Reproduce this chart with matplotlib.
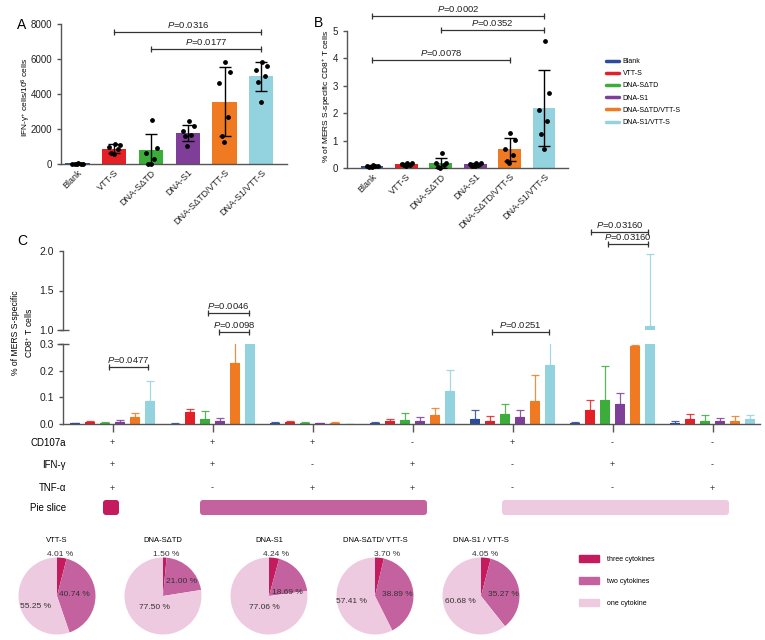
import numpy as np
import matplotlib
matplotlib.use("Agg")
import matplotlib.pyplot as plt
import matplotlib.transforms as mtransforms
from matplotlib.lines import Line2D
from matplotlib.patches import Patch, FancyBboxPatch

plt.rcParams['font.family'] = ['Liberation Sans', 'DejaVu Sans']
plt.rcParams['mathtext.fontset'] = 'custom'
plt.rcParams['mathtext.rm'] = 'Liberation Sans'
plt.rcParams['mathtext.it'] = 'Liberation Sans:italic'

# ---------------- data ----------------
groups = ["Blank", "VTT-S", "DNA-SΔTD", "DNA-S1", "DNA-SΔTD/VTT-S", "DNA-S1/VTT-S"]
colors = ['#2b4c9b', '#e41f26', '#3cac3a', '#7f3f98', '#f07a22', '#93d3df']

# panel A : IFN-gamma ELISpot
ifn_mean = [30, 880, 790, 1790, 3570, 5000]
ifn_sd = [20, 260, 930, 460, 1950, 830]
ifn_points = [
    [30, 20, 10, 10, 5, 0],
    [1150, 1100, 1000, 850, 620, 600],
    [2500, 930, 630, 290, 0, 0],
    [2440, 2150, 1900, 1680, 1620, 1050],
    [5850, 5260, 4630, 2670, 1620, 1240],
    [5850, 5620, 5350, 5050, 4700, 3520],
]
ifn_pvals = [(1, 5, 7540, "0.0316"), (2, 5, 6570, "0.0177")]

# panel B : % MERS S-specific CD8+ T cells
cd8_mean = [0.07, 0.14, 0.18, 0.13, 0.69, 2.19]
cd8_sd = [0.03, 0.04, 0.19, 0.05, 0.42, 1.39]
cd8_points = [
    [0.10, 0.08, 0.07, 0.06, 0.05, 0.04],
    [0.20, 0.18, 0.15, 0.12, 0.10, 0.08],
    [0.53, 0.20, 0.18, 0.10, 0.05, 0.0],
    [0.20, 0.18, 0.15, 0.10, 0.08, 0.06],
    [1.28, 1.04, 0.71, 0.46, 0.24, 0.20],
    [4.63, 2.74, 2.13, 1.71, 1.23, 0.68],
]
cd8_pvals = [(0, 5, 5.56, "0.0002"), (2, 5, 5.04, "0.0352"), (0, 4, 3.94, "0.0078")]

# panel C : cytokine combinations (rows = combinations, cols = groups)
cd107a = ['+', '+', '+', '-', '+', '-', '-']
ifng = ['+', '+', '-', '+', '-', '+', '-']
tnfa = ['+', '-', '+', '+', '-', '-', '+']
n_cytokines = [3, 2, 2, 2, 1, 1, 1]
combo_mean = np.array([
    [0.004, 0.006, 0.005, 0.006, 0.025, 0.0875],
    [0.001, 0.045, 0.019, 0.0125, 0.23, 0.55],
    [0.004, 0.006, 0.004, 0.002, 0.004, 0.0],
    [0.004, 0.010, 0.015, 0.011, 0.034, 0.122],
    [0.0175, 0.0125, 0.036, 0.0275, 0.0875, 0.2225],
    [0.004, 0.0525, 0.090, 0.076, 0.294, 1.05],
    [0.005, 0.019, 0.0125, 0.010, 0.0125, 0.020],
])
combo_err = np.array([
    [0.001, 0.0065, 0.0025, 0.008, 0.016, 0.075],
    [0.001, 0.013, 0.031, 0.0095, 0.20, 0.30],
    [0.002, 0.006, 0.004, 0.001, 0.004, 0.0],
    [0.002, 0.010, 0.026, 0.014, 0.026, 0.082],
    [0.0365, 0.0185, 0.039, 0.025, 0.0975, 0.09],
    [0.005, 0.0365, 0.1275, 0.039, 0.004, 0.91],
    [0.0075, 0.020, 0.0225, 0.0125, 0.0185, 0.015],
])
# (x0, x1, y, p) in group units / y units of the lower and upper axis
combo_pvals_low = [(-0.035, 0.355, 0.214, "0.0477"), (0.955, 1.365, 0.416, "0.0046"),
                   (1.065, 1.365, 0.345, "0.0098"), (3.795, 4.365, 0.345, "0.0251")]
combo_pvals_up = [(4.785, 5.355, 2.24, "0.03160"), (4.955, 5.355, 2.09, "0.03160")]

# pies
pie_titles = ["VTT-S", "DNA-SΔTD", "DNA-S1", "DNA-SΔTD/ VTT-S", "DNA-S1 / VTT-S"]
pie_three = [4.01, 1.50, 4.24, 3.70, 4.05]
pie_two = [40.74, 21.00, 18.69, 38.89, 35.27]
pie_one = [55.25, 77.50, 77.06, 57.41, 60.68]
pie_labels = ["three cytokines", "two cytokines", "one cytokine"]
pie_colors = ['#c41a5e', '#c462a0', '#eecae0']

# label offsets on each pie (radius units)
pie_lab_pos = [
    [(0.07, 1.09), (0.44, 0.05), (-0.55, -0.26)],
    [(0.07, 1.09), (0.49, 0.37), (-0.23, -0.31)],
    [(0.17, 1.09), (0.49, 0.09), (-0.13, -0.31)],
    [(0.32, 1.09), (0.58, 0.05), (-0.61, -0.13)],
    [(0.11, 1.09), (0.59, 0.05), (-0.54, -0.13)],
]

W, H = 765, 640
spine_c = '#555555'
fig = plt.figure(figsize=(W / 100, H / 100), dpi=100)


def px_axes(x0, y0, x1, y1):
    ax = fig.add_axes([x0 / W, 1 - y1 / H, (x1 - x0) / W, (y1 - y0) / H])
    ax.patch.set_visible(False)
    return ax


def style_axes(ax, fs=7):
    for s in ['top', 'right']:
        ax.spines[s].set_visible(False)
    for s in ['left', 'bottom']:
        ax.spines[s].set_color(spine_c)
        ax.spines[s].set_linewidth(1.0)
    ax.tick_params(colors=spine_c, labelcolor='#222222', labelsize=fs, width=1.0, length=3)


def bracket(ax, x0, x1, y, p, fs=6.8, ms=5, lw=0.9):
    ax.plot([x0, x1], [y, y], color='#333333', lw=lw, marker='|', ms=ms, mew=lw,
            clip_on=False, zorder=5)
    ax.annotate(r"$\it{P}$=" + p, ((x0 + x1) / 2, y), xytext=(0, 1.5),
                textcoords='offset points', ha='center', va='bottom', fontsize=fs,
                color='#222222', annotation_clip=False)


jit = [0.02, 0.16, -0.14, 0.09, -0.08, -0.01]
shift = mtransforms.ScaledTranslation(0.07, 0, fig.dpi_scale_trans)


def dot_bar(ax, means, sds, points, pvals):
    x = np.arange(len(groups))
    ax.bar(x, means, width=0.66, color=colors, zorder=2)
    ax.errorbar(x, means, yerr=sds, fmt='none', ecolor='black', elinewidth=1.0,
                capsize=4.5, capthick=1.0, zorder=4)
    for i, pts in enumerate(points):
        ax.scatter(i + np.array(jit), pts, s=6, color='black', zorder=5, clip_on=False)
    for a, b, y, p in pvals:
        bracket(ax, a, b, y, p)
    ax.set_xticks(x)
    ax.set_xticklabels(groups, rotation=45, ha='right', va='top', rotation_mode='anchor',
                       fontsize=6.5)
    for lab in ax.get_xticklabels():
        lab.set_transform(lab.get_transform() + shift)
    ax.tick_params(axis='x', length=0, pad=3)


# ---- panel A
axA = px_axes(61, 24, 287, 164)
style_axes(axA)
dot_bar(axA, ifn_mean, ifn_sd, ifn_points, ifn_pvals)
axA.set_ylim(0, 8000)
axA.set_xlim(-0.45, 5.7)
axA.set_yticks([0, 2000, 4000, 6000, 8000])
fig.text(26 / W, 1 - 97 / H, r"IFN-γ$^{+}$ cells/10$^{6}$ cells", rotation=90,
         ha='center', va='center', fontsize=6)
fig.text(17 / W, 1 - 25 / H, "A", fontsize=10, ha='left', va='center')

# ---- panel B
axB = px_axes(347, 31, 568, 168)
style_axes(axB)
dot_bar(axB, cd8_mean, cd8_sd, cd8_points, cd8_pvals)
axB.set_ylim(0, 5)
axB.set_xlim(-0.73, 5.7)
axB.set_yticks([0, 1, 2, 3, 4, 5])
fig.text(327 / W, 1 - 97 / H, r"% of MERS S-specific CD8$^{+}$ T cells", rotation=90,
         ha='center', va='center', fontsize=6)
fig.text(314 / W, 1 - 23 / H, "B", fontsize=10, ha='left', va='center')

fig.legend(handles=[Line2D([0], [0], color=c, lw=2.5, solid_capstyle='round') for c in colors],
           labels=groups, loc='upper left', bbox_to_anchor=(606 / W, 1 - 58 / H),
           frameon=False, fontsize=5, handlelength=1.9, handletextpad=0.5,
           labelspacing=0.75, borderpad=0, borderaxespad=0)

# ---- panel C (broken y axis)
axLo = px_axes(63, 344, 760, 424)
axUp = px_axes(63, 251, 760, 330)
ng = combo_mean.shape[0]
gx = np.arange(ng)
for ax in (axLo, axUp):
    style_axes(ax, fs=7.5)
    for s in range(6):
        xs = gx + (s - 2.5) * 0.15
        ax.bar(xs, combo_mean[:, s], width=0.1, color=colors[s], zorder=2)
        ax.errorbar(xs, combo_mean[:, s], yerr=[np.zeros(ng), combo_err[:, s]], fmt='none',
                    ecolor=colors[s], alpha=0.85, elinewidth=0.9, capsize=3, capthick=0.9,
                    zorder=1)
    ax.set_xlim(-0.495, 6.475)
axLo.set_ylim(0, 0.3)
axLo.set_yticks([0.0, 0.1, 0.2, 0.3])
axLo.set_yticklabels(["0.0", "0.1", "0.2", "0.3"])
axLo.set_xticks(gx)
axLo.set_xticklabels([])
axLo.tick_params(axis='x', length=6, direction='out')
axUp.set_ylim(1, 2)
axUp.set_yticks([1.0, 1.5, 2.0])
axUp.set_yticklabels(["1.0", "1.5", "2.0"])
axUp.spines['bottom'].set_visible(False)
axUp.set_xticks([])
# break marks
for ax, yb in ((axLo, 0.3), (axUp, 1.0)):
    ax.plot([0], [yb], marker='_', ms=9, mew=1.0, color=spine_c, clip_on=False,
            transform=mtransforms.blended_transform_factory(ax.transAxes, ax.transData))

for a, b, y, p in combo_pvals_low:
    bracket(axLo, a, b, y, p, ms=5)
for a, b, y, p in combo_pvals_up:
    bracket(axUp, a, b, y, p, ms=5)

fig.text(23 / W, 1 - 333 / H, "% of MERS S-specific\nCD8$^{+}$ T cells", rotation=90,
         ha='center', va='center', fontsize=6.2, multialignment='center', linespacing=1.3)
fig.text(17 / W, 1 - 241 / H, "C", fontsize=10, ha='left', va='center')

# sign table under panel C
blend = mtransforms.blended_transform_factory(axLo.transData, fig.transFigure)
rows = [("CD107a", cd107a, 443), ("IFN-γ", ifng, 465), ("TNF-α", tnfa, 488)]
for name, signs, ypx in rows:
    fig.text(66 / W, 1 - ypx / H, name, ha='right', va='center', fontsize=7)
    for i, sg in enumerate(signs):
        axLo.text(i, 1 - ypx / H, sg, transform=blend, ha='center', va='center',
                  fontsize=6.5, color='#333333')
fig.text(66 / W, 1 - 508 / H, "Pie slice", ha='right', va='center', fontsize=7)
slice_pad = {3: (0.095, 0.065), 2: (0.125, 0.145), 1: (0.105, 0.165)}
for k, col in zip([3, 2, 1], pie_colors):
    idx = [i for i, n in enumerate(n_cytokines) if n == k]
    lp, rp = slice_pad[k]
    x0, x1 = idx[0] - lp, idx[-1] + rp
    axLo.add_patch(FancyBboxPatch((x0, 1 - 515 / H), x1 - x0, 15 / H, transform=blend,
                                  boxstyle="round,pad=0,rounding_size=0.03",
                                  mutation_aspect=100 / H, color=col, clip_on=False, lw=0))

# ---- pies
r = 38.5
for i in range(5):
    cx, cy = 57 + 106 * i, 596
    ax = px_axes(cx - r, cy - r, cx + r, cy + r)
    vals = [pie_three[i], pie_two[i], pie_one[i]]
    ax.pie(vals, colors=pie_colors, startangle=90, counterclock=False,
           wedgeprops=dict(linewidth=0))
    ax.set_xlim(-1, 1)
    ax.set_ylim(-1, 1)
    for v, (dx, dy) in zip(vals, pie_lab_pos[i]):
        ax.text(dx, dy, f"{v:.2f} %", ha='center', va='center', fontsize=6,
                color='#333333', clip_on=False)
    ax.text(0, 1.45, pie_titles[i], ha='center', va='center', fontsize=5.5, clip_on=False)

fig.legend(handles=[Patch(color=c) for c in pie_colors], labels=pie_labels,
           loc='upper left', bbox_to_anchor=(579 / W, 1 - 555 / H), frameon=False,
           fontsize=5, handlelength=2.9, handleheight=1.2, handletextpad=1.1,
           labelspacing=2.05, borderpad=0, borderaxespad=0)

fig.savefig("out.png", dpi=100)
